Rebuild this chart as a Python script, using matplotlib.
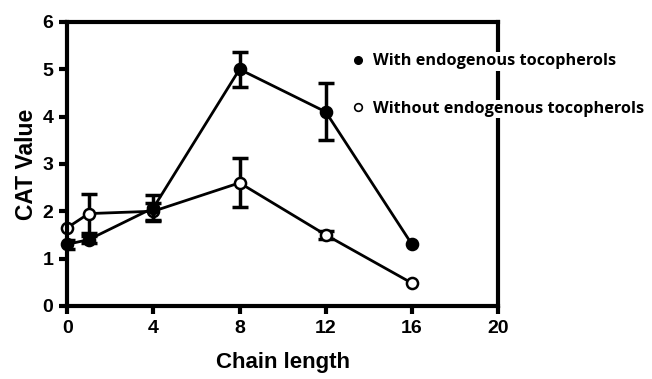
import numpy as np
import matplotlib
matplotlib.use("Agg")
import matplotlib.pyplot as plt

# chain length vs CAT value
chain = [0, 1, 4, 8, 12, 16]
with_toc = [1.3, 1.4, 2.07, 5.0, 4.1, 1.3]
with_err = [0.1, 0.08, 0.28, 0.37, 0.6, 0.0]
without_toc = [1.65, 1.95, 2.0, 2.6, 1.5, 0.48]
without_err = [0.0, 0.42, 0.18, 0.52, 0.08, 0.0]

xticks = [0, 4, 8, 12, 16, 20]
yticks = [0, 1, 2, 3, 4, 5, 6]

plt.rcParams["font.family"] = ["Liberation Sans", "DejaVu Sans"]
plt.rcParams["font.weight"] = "bold"

fig = plt.figure(figsize=(6.52, 3.79), dpi=100)
ax = fig.add_axes([0.103, 0.193, 0.661, 0.749])


def series(y, err, face, z):
    x = np.array(chain)
    y = np.array(y)
    e = np.array(err)
    m = e > 0
    ax.errorbar(x[m], y[m], yerr=e[m], fmt="none", ecolor="black",
                elinewidth=2.5, capsize=6, capthick=2.5, zorder=z)
    ax.plot(x, y, color="black", lw=2, marker="o", ms=8, mfc=face,
            mec="black", mew=1.8, zorder=z + 0.5, clip_on=False)


series(with_toc, with_err, "black", 3)
series(without_toc, without_err, "white", 2)

ax.set_xlim(0, 20)
ax.set_ylim(0, 6)
ax.set_xticks(xticks)
ax.set_yticks(yticks)
for s in ax.spines.values():
    s.set_linewidth(3)
ax.tick_params(direction="out", length=6, width=3, labelsize=14, pad=4)
for lab in ax.get_xticklabels() + ax.get_yticklabels():
    lab.set_fontweight("bold")
ax.set_xlabel("Chain length", fontsize=16, fontweight="bold", labelpad=11)
ax.set_ylabel("CAT Value", fontsize=16.5, fontweight="bold", labelpad=3)

# legend: markers only, texts sit over the right spine
h1 = plt.Line2D([], [], ls="none", marker="o", ms=5.5, mfc="black", mec="black")
h2 = plt.Line2D([], [], ls="none", marker="o", ms=5.5, mfc="white", mec="black", mew=1.2)
leg = ax.legend([h1, h2], ["With endogenous tocopherols", "Without endogenous tocopherols"],
                loc="upper left", bbox_to_anchor=(0.519, 0.898), bbox_transform=fig.transFigure,
                frameon=False, handlelength=0.6, handletextpad=0.65, labelspacing=1.95,
                prop={"family": ["Open Sans", "DejaVu Sans"], "weight": "bold", "size": 11.7})
for t in leg.get_texts():
    t.set_bbox(dict(facecolor="white", edgecolor="none", pad=1))

fig.savefig("out.png", dpi=100)
